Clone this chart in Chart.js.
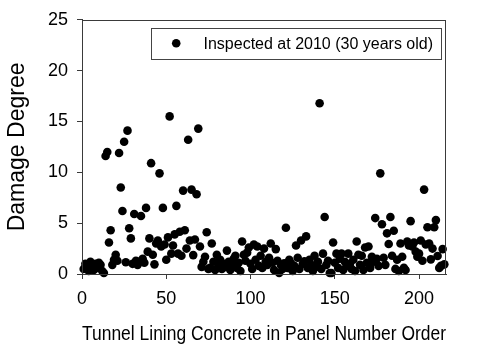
<!DOCTYPE html>
<html>
<head>
<meta charset="utf-8">
<script src="https://cdn.jsdelivr.net/npm/chart.js@4.4.1/dist/chart.umd.min.js"></script>
<style>
  html, body { margin: 0; padding: 0; background: #fff; }
  #wrap { width: 477px; height: 344px; }
</style>
</head>
<body>
<div id="wrap"><canvas id="damageChart"></canvas></div>
<script>
// damage degree per panel, panels numbered 1, 2, 3 ... in order
const damageDegree = [
    0.5, 1.0, 0.7, 0.3, 1.2, 0.8, 0.4, 1.0, 0.6, 1.1,
    0.9, 0.3, 0.1, 11.6, 12.0, 3.1, 4.3, 0.9, 1.4, 1.9,
    1.3, 11.9, 8.5, 6.2, 13.0, 1.15, 14.1, 4.5, 3.5, 1.0,
    5.9, 1.3, 0.9, 1.2, 5.7, 1.5, 1.1, 6.5, 2.2, 3.5,
    10.9, 1.9, 0.95, 3.0, 3.3, 9.9, 2.7, 6.5, 2.9, 1.4,
    3.6, 15.5, 2.0, 2.8, 3.9, 6.7, 2.0, 4.15, 1.8, 8.2,
    4.3, 2.5, 13.2, 3.3, 8.3, 1.86, 3.4, 7.85, 14.3, 2.7,
    0.7, 1.2, 1.7, 4.1, 0.5, 0.6, 3.0, 1.2, 0.4, 1.9,
    0.8, 1.4, 0.5, 1.0, 0.7, 2.3, 1.2, 0.4, 0.9, 1.5,
    1.8, 0.6, 1.1, 0.3, 3.2, 1.9, 1.3, 2.1, 2.6, 1.0,
    0.5, 2.9, 1.4, 2.7, 0.8, 1.8, 0.6, 2.5, 1.2, 0.9,
    1.6, 3.0, 1.1, 0.4, 2.45, 1.3, 0.1, 0.9, 0.5, 1.05,
    4.55, 0.6, 1.4, 1.05, 0.3, 0.8, 2.8, 1.6, 0.5, 3.3,
    1.0, 1.25, 3.7, 0.6, 1.4, 0.9, 0.3, 1.8, 0.7, 1.2,
    16.8, 0.5, 2.0, 5.6, 0.9, 1.3, 0.1, 0.1, 3.1, 1.1,
    2.0, 0.6, 1.5, 2.0, 0.4, 1.2, 0.8, 2.0, 1.0, 0.5,
    1.4, 0.3, 3.2, 1.9, 0.9, 1.8, 0.4, 2.6, 1.1, 2.7,
    0.6, 1.7, 1.2, 5.5, 1.5, 0.8, 9.9, 4.9, 1.6, 0.9,
    4.0, 2.95, 5.6, 1.8, 4.25, 0.5, 1.4, 0.3, 3.0, 1.7,
    0.6, 0.4, 3.2, 2.8, 5.2, 2.7, 3.1, 2.2, 1.7, 2.0,
    3.3, 1.3, 8.3, 2.9, 4.6, 3.0, 1.44, 2.5, 4.6, 5.3,
    1.77, 0.6, 0.8, 2.45, 0.95
];
const xTicks = [0, 50, 100, 150, 200];
const yTicks = [0, 5, 10, 15, 20, 25];
const seriesLabel = 'Inspected at 2010 (30 years old)';

const FONT = "'Liberation Sans', Arial, sans-serif";
const AXIS = '#3a3a3a';

const points = damageDegree.map((v, i) => ({ x: i + 1, y: v }));

// box around the plot plus the boxed legend inside it
const framePlugin = {
    id: 'frame',
    afterDraw(chart) {
        const { ctx, chartArea: a } = chart;
        ctx.save();
        ctx.strokeStyle = AXIS;
        ctx.lineWidth = 1;
        ctx.strokeRect(Math.round(a.left) + 0.5, Math.round(a.top) + 0.5,
            Math.round(a.right - a.left) - 1, Math.round(a.bottom - a.top));

        ctx.font = '16px ' + FONT;
        const tw = ctx.measureText(seriesLabel).width;
        const boxW = 53 + tw + 8;
        const boxR = a.right - 5;
        const boxL = boxR - boxW;
        const boxT = a.top + 8;
        const boxH = 31;
        ctx.fillStyle = '#fff';
        ctx.fillRect(boxL, boxT, boxW, boxH);
        ctx.strokeStyle = '#444';
        ctx.strokeRect(Math.round(boxL) + 0.5, Math.round(boxT) + 0.5, Math.round(boxW), boxH);
        ctx.fillStyle = '#000';
        ctx.beginPath();
        ctx.arc(boxL + 25.7, boxT + boxH / 2, 4.3, 0, Math.PI * 2);
        ctx.fill();
        ctx.textBaseline = 'middle';
        ctx.textAlign = 'left';
        ctx.fillText(seriesLabel, boxL + 53, boxT + boxH / 2 + 1);
        ctx.restore();
    }
};

const ctx = document.getElementById('damageChart').getContext('2d');
const damageChart = new Chart(ctx, {
    type: 'scatter',
    data: {
        datasets: [{
            label: seriesLabel,
            data: points,
            pointRadius: 4.3,
            pointHoverRadius: 4.3,
            pointBackgroundColor: '#000',
            pointBorderColor: '#000',
            pointBorderWidth: 0,
            clip: false
        }]
    },
    options: {
        responsive: true,
        maintainAspectRatio: false,
        animation: false,
        events: [],
        layout: {
            padding: { left: 0, right: 31, top: 19, bottom: 0 }
        },
        plugins: {
            legend: { display: false },
            tooltip: { enabled: false }
        },
        scales: {
            x: {
                type: 'linear',
                min: 0,
                max: 216,
                afterBuildTicks: scale => { scale.ticks = xTicks.map(v => ({ value: v })); },
                afterFit: scale => { scale.height = 70; },
                grid: {
                    drawOnChartArea: false,
                    tickLength: 5,
                    color: AXIS
                },
                border: { color: AXIS, width: 1 },
                ticks: {
                    padding: 9,
                    color: '#000',
                    maxRotation: 0,
                    font: { family: FONT, size: 18 }
                },
                title: {
                    display: true,
                    text: 'Tunnel Lining Concrete in Panel Number Order',
                    color: '#000',
                    padding: { top: 0, bottom: 0 },
                    font: { family: FONT, size: 20, lineHeight: 1 }
                }
            },
            y: {
                min: 0,
                max: 25,
                afterBuildTicks: scale => { scale.ticks = yTicks.map(v => ({ value: v })); },
                afterFit: scale => { scale.width = 82; },
                grid: {
                    drawOnChartArea: false,
                    tickLength: 5,
                    color: AXIS
                },
                border: { color: AXIS, width: 1 },
                ticks: {
                    padding: 9,
                    color: '#000',
                    font: { family: FONT, size: 18 }
                },
                title: {
                    display: true,
                    text: 'Damage Degree',
                    color: '#000',
                    padding: { top: 6, bottom: 0 },
                    font: { family: FONT, size: 23, lineHeight: 1 }
                }
            }
        }
    },
    plugins: [framePlugin]
});
</script>
</body>
</html>
